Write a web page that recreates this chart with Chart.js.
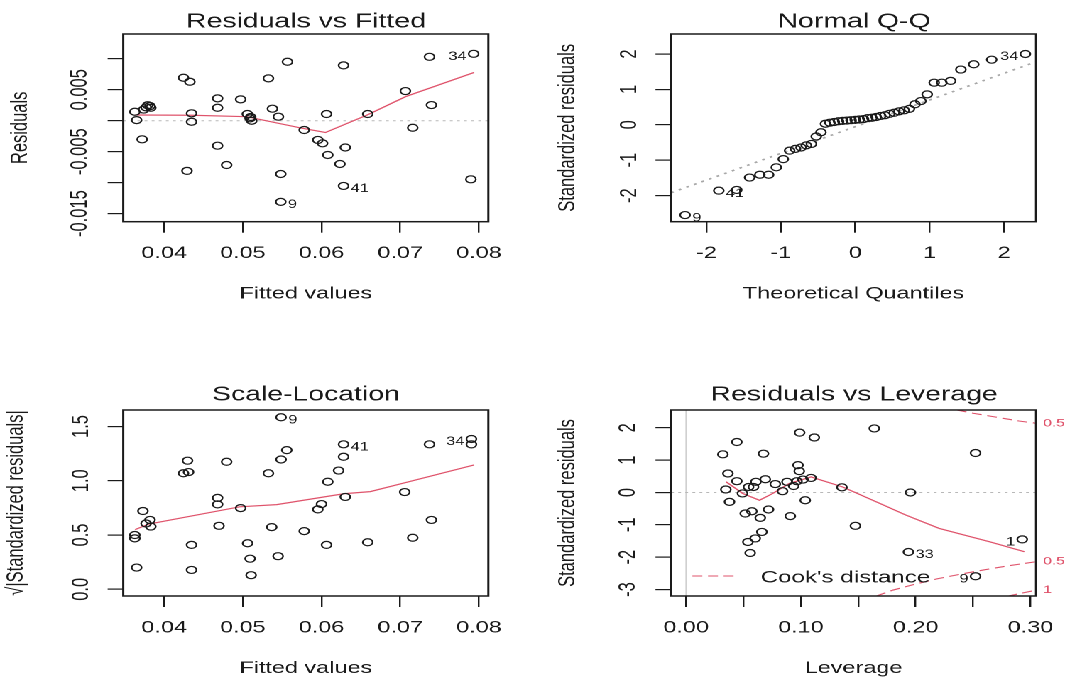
<!DOCTYPE html>
<html>
<head>
<meta charset="utf-8">
<script src="https://cdn.jsdelivr.net/npm/chart.js@4.4.1/dist/chart.umd.min.js"></script>
<style>
html, body { margin: 0; padding: 0; background: #fff; overflow: hidden; }
/* the R figure is drawn at its own size, then stretched sideways like the picture */
#fig { position: absolute; left: 0; top: 0; width: 756px; height: 682px; transform: scaleX(1.42); transform-origin: 0 0; }
#fig canvas { position: absolute; }
</style>
</head>
<body>
<div id="fig">
  <canvas id="rvf" width="431" height="304" style="left:0px;top:0px;width:431px;height:304px"></canvas>
  <canvas id="qq" width="431" height="304" style="left:386px;top:0px;width:431px;height:304px"></canvas>
  <canvas id="sl" width="431" height="338" style="left:0px;top:341px;width:431px;height:338px"></canvas>
  <canvas id="rvl" width="431" height="338" style="left:386px;top:341px;width:431px;height:338px"></canvas>
</div>
<script>
// ---- Residuals vs Fitted ----
const fitted = [0.03627, 0.0365, 0.0372, 0.0377, 0.0382, 0.0374, 0.0379, 0.0383, 0.04246, 0.04327,
  0.04348, 0.04348, 0.0429, 0.04679, 0.04679, 0.04679, 0.04794, 0.04972, 0.05057, 0.05092,
  0.05113, 0.0510, 0.05325, 0.05376, 0.05452, 0.05482, 0.05482, 0.05567, 0.0578, 0.05953,
  0.06013, 0.0608, 0.06064, 0.06234, 0.0628, 0.0628, 0.06302, 0.06587, 0.07066, 0.07159,
  0.07372, 0.07397, 0.07898, 0.07933];
const residuals = [0.00145, 0.0001, -0.0030, 0.00216, 0.00237, 0.0018, 0.0025, 0.0021, 0.00694, 0.00629,
  0.0012, -0.00016, -0.0081, 0.00361, 0.00209, -0.00403, -0.00715, 0.00345, 0.00108, 0.00038,
  0.0, 0.0006, 0.00684, 0.00194, 0.00065, -0.0086, -0.0131, 0.00952, -0.0015, -0.0031,
  -0.00365, -0.00553, 0.00108, -0.00698, 0.00893, -0.01053, -0.00432, 0.00108, 0.00479, -0.00113,
  0.01032, 0.00253, -0.00946, 0.0108];
const rvfSmoothX = [0.03627, 0.0435, 0.0505, 0.0575, 0.0605, 0.0658, 0.0707, 0.0794];
const rvfSmoothY = [0.00092, 0.00088, 0.00065, -0.0012, -0.0019, 0.00092, 0.0039, 0.0078];
const rvfIds = [
  {x: 0.07933, y: 0.0108, text: '34', side: 'left'},
  {x: 0.0628, y: -0.01053, text: '41', side: 'right'},
  {x: 0.05482, y: -0.0131, text: '9', side: 'right'}
];
const fittedTicks = [0.04, 0.05, 0.06, 0.07, 0.08];
const fittedLabels = ['0.04', '0.05', '0.06', '0.07', '0.08'];
const residTicks = [-0.015, -0.010, -0.005, 0, 0.005, 0.010];
const residLabels = ['-0.015', '', '-0.005', '', '0.005', ''];

// ---- Normal Q-Q ----
const theoQ = [-2.287, -1.834, -1.593, -1.420, -1.282, -1.164, -1.061, -0.967, -0.882, -0.803,
  -0.728, -0.657, -0.589, -0.524, -0.461, -0.400, -0.341, -0.282, -0.224, -0.168,
  -0.112, -0.056, 0, 0.056, 0.112, 0.168, 0.224, 0.282, 0.341, 0.400,
  0.461, 0.524, 0.589, 0.657, 0.728, 0.803, 0.882, 0.967, 1.061, 1.164,
  1.282, 1.420, 1.593, 1.834, 2.287];
const stdResSorted = [-2.55, -1.86, -1.84, -1.49, -1.41, -1.41, -1.20, -0.97, -0.73, -0.68,
  -0.64, -0.58, -0.54, -0.33, -0.21, 0.03, 0.06, 0.08, 0.10, 0.11,
  0.12, 0.13, 0.14, 0.15, 0.16, 0.19, 0.20, 0.22, 0.25, 0.27,
  0.31, 0.34, 0.38, 0.41, 0.45, 0.58, 0.67, 0.86, 1.19, 1.19,
  1.24, 1.56, 1.71, 1.84, 2.00];
const qqLineX = [-2.475, 2.43];
const qqLineY = [-1.92, 1.78];
const qqIds = [
  {x: -2.287, y: -2.55, text: '9', side: 'right'},
  {x: -1.834, y: -1.86, text: '41', side: 'right'},
  {x: 2.287, y: 2.00, text: '34', side: 'left'}
];
const qTicks = [-2, -1, 0, 1, 2];
const qLabels = ['-2', '-1', '0', '1', '2'];

// ---- Scale-Location ----
const slFitted = [0.03627, 0.03627, 0.0365, 0.0373, 0.0377, 0.0382, 0.0383, 0.04297, 0.04246, 0.0431,
  0.04348, 0.04348, 0.04679, 0.04679, 0.04697, 0.04794, 0.04972, 0.0506, 0.05092, 0.05105,
  0.05325, 0.05367, 0.05448, 0.05486, 0.05558, 0.05486, 0.0578, 0.05953, 0.06, 0.06064,
  0.0608, 0.06217, 0.0628, 0.0628, 0.06302, 0.06587, 0.07057, 0.07159, 0.07372, 0.07397,
  0.07905, 0.07905];
const slSqrtRes = [0.469, 0.50, 0.20, 0.721, 0.606, 0.639, 0.578, 1.185, 1.069, 1.08,
  0.409, 0.178, 0.842, 0.782, 0.585, 1.175, 0.748, 0.424, 0.282, 0.13,
  1.069, 0.573, 0.305, 1.196, 1.282, 1.585, 0.536, 0.736, 0.785, 0.409,
  0.991, 1.094, 1.221, 1.336, 0.851, 0.433, 0.896, 0.475, 1.336, 0.639,
  1.385, 1.335];
const slSmoothX = [0.0363, 0.038, 0.0496, 0.0543, 0.0628, 0.0662, 0.0705, 0.0794];
const slSmoothY = [0.55, 0.60, 0.76, 0.78, 0.88, 0.90, 0.98, 1.146];
const slIds = [
  {x: 0.05486, y: 1.585, text: '9', side: 'right'},
  {x: 0.0628, y: 1.336, text: '41', side: 'right'},
  {x: 0.07905, y: 1.385, text: '34', side: 'left'}
];
const slTicks = [0, 0.5, 1, 1.5];
const slLabels = ['0.0', '0.5', '1.0', '1.5'];

// ---- Residuals vs Leverage ----
const leverage = [0.032, 0.0442, 0.0364, 0.0346, 0.0378, 0.0442, 0.0491, 0.0515, 0.0544, 0.0573,
  0.0587, 0.0538, 0.0558, 0.0602, 0.0646, 0.066, 0.0608, 0.0674, 0.069, 0.0718,
  0.0777, 0.084, 0.0879, 0.0908, 0.0937, 0.0966, 0.0975, 0.0986, 0.0989, 0.1018,
  0.1038, 0.1088, 0.1117, 0.1358, 0.1475, 0.164, 0.1937, 0.1955, 0.2522, 0.2522,
  0.2929];
const levStdRes = [1.18, 1.56, 0.587, 0.093, -0.29, 0.35, -0.03, -0.65, 0.17, -0.58,
  0.17, -1.53, -1.87, -1.42, -0.785, -1.22, 0.33, 1.2, 0.41, -0.525,
  0.26, 0.04, 0.33, -0.73, 0.2, 0.35, 0.845, 0.66, 1.85, 0.4,
  -0.24, 0.45, 1.7, 0.16, -1.03, 1.98, -1.84, 0, 1.22, -2.59,
  -1.45];
const levSmoothX = [0.0348, 0.0494, 0.0639, 0.0755, 0.09, 0.1089, 0.1365, 0.1626, 0.1916, 0.2206, 0.2642, 0.2947];
const levSmoothY = [0.33, -0.03, -0.24, -0.03, 0.28, 0.48, 0.17, -0.24, -0.70, -1.11, -1.52, -1.83];
const cookUpper05X = [0.236, 0.25, 0.27, 0.29, 0.3049];
const cookUpper05Y = [2.55, 2.45, 2.33, 2.21, 2.14];
const cookLower05X = [0.166, 0.18, 0.20, 0.22, 0.24, 0.26, 0.28, 0.3049];
const cookLower05Y = [-3.20, -3.02, -2.83, -2.66, -2.52, -2.39, -2.27, -2.14];
const cookLower1X = [0.28, 0.29, 0.3049];
const cookLower1Y = [-3.21, -3.13, -3.02];
const cookLevels = [{y: 2.14, text: '0.5'}, {y: -2.14, text: '0.5'}, {y: -3.02, text: '1'}];
const levIds = [
  {x: 0.1937, y: -1.84, text: '33', side: 'right'},
  {x: 0.2522, y: -2.59, text: '9', side: 'left'},
  {x: 0.2929, y: -1.45, text: '1', side: 'left'}
];
const levTicks = [0, 0.05, 0.10, 0.15, 0.20, 0.25, 0.30];
const levLabels = ['0.00', '', '0.10', '', '0.20', '', '0.30'];
const srTicks = [-3, -2, -1, 0, 1, 2];
const srLabels = ['-3', '-2', '-1', '0', '1', '2'];

const FONT = "'Liberation Sans', Arial, sans-serif";
const INK = '#1a1a1a';
const RED = '#DF536B';

function pts(xs, ys) {
  return xs.map((x, i) => ({x: x, y: ys[i]}));
}

function pointSet(xs, ys) {
  return {data: pts(xs, ys), showLine: false, pointStyle: 'circle', pointRadius: 3.5,
    pointBorderColor: INK, pointBackgroundColor: 'rgba(0,0,0,0)', pointBorderWidth: 1.2};
}

function lineSet(xs, ys, color, dash, width) {
  return {data: pts(xs, ys), showLine: true, pointRadius: 0, borderColor: color,
    borderWidth: width || 1, borderDash: dash || [], tension: 0, fill: false};
}

// box, point ids, Cook's levels and legend, in the R style
const rExtras = {
  id: 'rExtras',
  afterDatasetsDraw(chart, args, opts) {
    const {ctx, chartArea: a} = chart;
    const xs = chart.scales.x, ys = chart.scales.y;
    ctx.save();
    ctx.strokeStyle = INK;
    ctx.lineWidth = 1.5;
    ctx.strokeRect(a.left, a.top, a.right - a.left, a.bottom - a.top);

    ctx.font = '11.5px ' + FONT;
    ctx.fillStyle = INK;
    ctx.textBaseline = 'middle';
    (opts.ids || []).forEach(l => {
      const px = xs.getPixelForValue(l.x), py = ys.getPixelForValue(l.y);
      ctx.textAlign = l.side === 'left' ? 'right' : 'left';
      ctx.fillText(l.text, l.side === 'left' ? px - 5 : px + 5, py + 3);
    });

    if (opts.cook) {
      ctx.font = '11px ' + FONT;
      ctx.fillStyle = RED;
      ctx.textAlign = 'left';
      opts.cook.forEach(c => ctx.fillText(c.text, a.right + 5, ys.getPixelForValue(c.y)));

      const ly = a.bottom - 20;
      ctx.strokeStyle = RED;
      ctx.lineWidth = 1.1;
      ctx.setLineDash([7, 4]);
      ctx.beginPath();
      ctx.moveTo(a.left + 15, ly);
      ctx.lineTo(a.left + 44, ly);
      ctx.stroke();
      ctx.setLineDash([]);
      ctx.font = '17px ' + FONT;
      ctx.fillStyle = INK;
      ctx.fillText("Cook's distance", a.left + 63, ly + 2);
    }
    ctx.restore();
  }
};

function buildChart(id, cfg) {
  return new Chart(document.getElementById(id), {
    type: 'scatter',
    data: {datasets: cfg.datasets},
    options: {
      responsive: false,
      animation: false,
      devicePixelRatio: 2,
      events: [],
      layout: {padding: {left: 0, top: 0, right: 0, bottom: cfg.padBottom}},
      plugins: {
        legend: {display: false},
        tooltip: {enabled: false},
        title: {display: true, text: cfg.title, color: INK,
          font: {family: FONT, size: 20, weight: 'normal'}, padding: cfg.titlePad},
        rExtras: cfg.extras
      },
      scales: {
        x: {
          type: 'linear', position: 'bottom', min: cfg.xMin, max: cfg.xMax,
          afterBuildTicks: s => { s.ticks = cfg.xTicks.map(v => ({value: v})); },
          afterFit: s => { s.height = 82.2; },
          border: {display: false},
          grid: {drawOnChartArea: false, drawTicks: true, tickLength: 11, color: INK, lineWidth: 1.2},
          ticks: {autoSkip: false, maxRotation: 0, minRotation: 0, padding: 11, color: INK,
            font: {family: FONT, size: 16.5}, callback: (v, i) => cfg.xLabels[i]},
          title: {display: true, text: cfg.xTitle, color: INK, font: {family: FONT, size: 16.5}, padding: 0}
        },
        y: {
          type: 'linear', position: 'left', min: cfg.yMin, max: cfg.yMax,
          afterBuildTicks: s => { s.ticks = cfg.yTicks.map(v => ({value: v})); },
          afterFit: s => { s.width = cfg.yAxisW; },
          border: {display: false},
          grid: {drawOnChartArea: false, drawTicks: true, tickLength: 11, color: INK, lineWidth: 1.2},
          ticks: {autoSkip: false, minRotation: 90, maxRotation: 90, crossAlign: 'center',
            padding: cfg.yTickPad, color: INK, font: {family: FONT, size: 16.5},
            callback: (v, i) => cfg.yLabels[i]},
          title: {display: true, text: cfg.yTitle, color: INK, font: {family: FONT, size: 16.5},
            padding: {top: cfg.yTitlePad, bottom: 0}}
        },
        // empty right margin axis, so the panel title centres over the plot box
        margin: {
          type: 'linear', position: 'right', display: true,
          afterFit: s => { s.width = cfg.padRight; },
          border: {display: false}, grid: {display: false}, ticks: {display: false}
        }
      }
    },
    plugins: [rExtras]
  });
}

// Residuals vs Fitted
buildChart('rvf', {
  title: 'Residuals vs Fitted', xTitle: 'Fitted values', yTitle: 'Residuals',
  xMin: 0.0348, xMax: 0.0812, yMin: -0.0163, yMax: 0.0140,
  xTicks: fittedTicks, xLabels: fittedLabels, yTicks: residTicks, yLabels: residLabels,
  yAxisW: 86.8, padRight: 87.1, padBottom: 0.1, titlePad: {top: 10.2, bottom: -0.2},
  yTickPad: -3.9, yTitlePad: 4.7,
  extras: {ids: rvfIds},
  datasets: [
    pointSet(fitted, residuals),
    lineSet(rvfSmoothX, rvfSmoothY, RED, [], 1.2),
    lineSet([0.0348, 0.0812], [0, 0], '#b8b8b8', [2, 3], 1)
  ]
});

// Normal Q-Q
buildChart('qq', {
  title: 'Normal Q-Q', xTitle: 'Theoretical Quantiles', yTitle: 'Standardized residuals',
  xMin: -2.475, xMax: 2.43, yMin: -2.737, yMax: 2.565,
  xTicks: qTicks, xLabels: qLabels, yTicks: qTicks, yLabels: qLabels,
  yAxisW: 86.6, padRight: 87.4, padBottom: 0.1, titlePad: {top: 10.2, bottom: -0.2},
  yTickPad: 10.6, yTitlePad: 4.3,
  extras: {ids: qqIds},
  datasets: [
    pointSet(theoQ, stdResSorted),
    lineSet(qqLineX, qqLineY, '#a8a8a8', [2, 4], 1.6)
  ]
});

// Scale-Location
buildChart('sl', {
  title: 'Scale-Location', xTitle: 'Fitted values', yTitle: '\u221A|Standardized residuals|',
  xMin: 0.0348, xMax: 0.0812, yMin: -0.062, yMax: 1.652,
  xTicks: fittedTicks, xLabels: fittedLabels, yTicks: slTicks, yLabels: slLabels,
  yAxisW: 86.8, padRight: 87.1, padBottom: 0.8, titlePad: {top: 41.8, bottom: 3.2},
  yTickPad: 6.8, yTitlePad: 1.5,
  extras: {ids: slIds},
  datasets: [
    pointSet(slFitted, slSqrtRes),
    lineSet(slSmoothX, slSmoothY, RED, [], 1.2)
  ]
});

// Residuals vs Leverage
buildChart('rvl', {
  title: 'Residuals vs Leverage', xTitle: 'Leverage', yTitle: 'Standardized residuals',
  xMin: -0.0131, xMax: 0.3049, yMin: -3.2, yMax: 2.55,
  xTicks: levTicks, xLabels: levLabels, yTicks: srTicks, yLabels: srLabels,
  yAxisW: 86.6, padRight: 87.4, padBottom: 0.8, titlePad: {top: 41.8, bottom: 3.2},
  yTickPad: 12, yTitlePad: 4.1,
  extras: {ids: levIds, cook: cookLevels},
  datasets: [
    pointSet(leverage, levStdRes),
    lineSet(levSmoothX, levSmoothY, RED, [], 1.2),
    lineSet(cookUpper05X, cookUpper05Y, RED, [7, 4], 1.1),
    lineSet(cookLower05X, cookLower05Y, RED, [7, 4], 1.1),
    lineSet(cookLower1X, cookLower1Y, RED, [7, 4], 1.1),
    lineSet([-0.0131, 0.3049], [0, 0], '#b8b8b8', [2, 3], 1),
    lineSet([0, 0], [-3.2, 2.55], '#d0d0d0', [], 1)
  ]
});
</script>
</body>
</html>
